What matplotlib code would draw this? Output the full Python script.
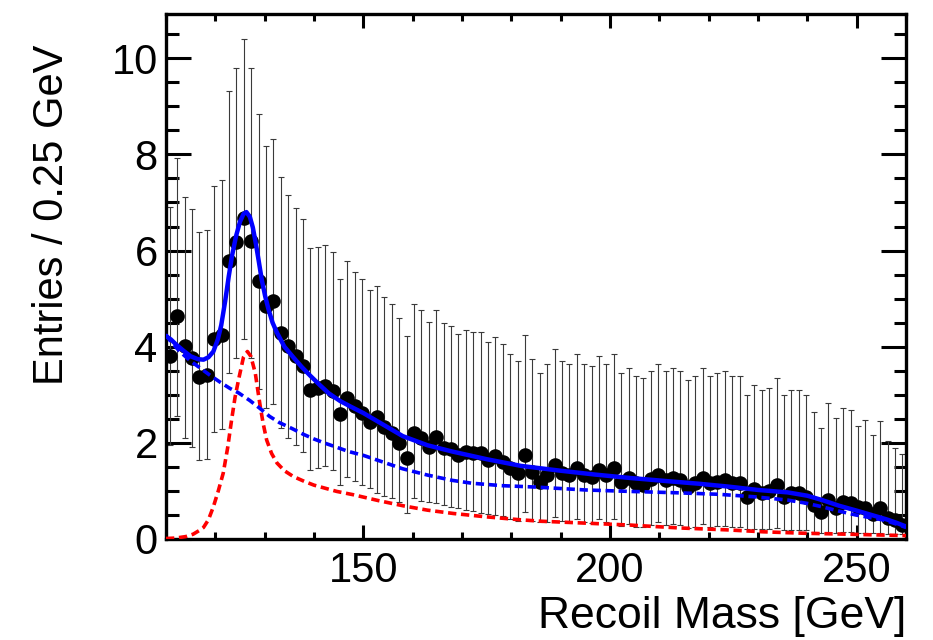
import matplotlib
matplotlib.use("Agg")
import matplotlib.pyplot as plt
import numpy as np
from matplotlib.ticker import MultipleLocator, FixedLocator

plt.rcParams['font.family'] = ['Liberation Sans', 'DejaVu Sans']

# ---- data ----
first_edge = 110.0
bin_width = 1.5

entries = [
    3.80, 4.63, 4.02, 3.76, 3.38, 3.42, 4.17, 4.25, 5.78, 6.18,
    6.68, 6.19, 5.36, 4.84, 4.96, 4.28, 4.01, 3.80, 3.60, 3.10,
    3.14, 3.19, 3.07, 2.60, 2.93, 2.76, 2.62, 2.44, 2.53, 2.34,
    2.20, 1.99, 1.69, 2.21, 2.10, 1.92, 2.13, 1.89, 1.87, 1.74,
    1.82, 1.78, 1.78, 1.65, 1.72, 1.61, 1.47, 1.37, 1.75, 1.40,
    1.19, 1.33, 1.54, 1.37, 1.33, 1.47, 1.33, 1.30, 1.44, 1.33,
    1.47, 1.19, 1.26, 1.16, 1.13, 1.24, 1.33, 1.23, 1.26, 1.23,
    1.09, 1.16, 1.26, 1.16, 1.19, 1.23, 1.16, 1.16, 0.88, 1.03,
    0.95, 0.99, 1.13, 0.88, 0.95, 0.95, 0.88, 0.71, 0.57, 0.81,
    0.64, 0.78, 0.74, 0.67, 0.64, 0.53, 0.64, 0.43, 0.40, 0.29,
]

upper_end = [
    6.91, 7.92, 7.12, 6.86, 6.39, 6.42, 7.35, 7.47, 9.31, 9.79,
    10.40, 9.80, 8.83, 8.18, 8.31, 7.53, 7.15, 6.88, 6.65, 6.05,
    6.08, 6.12, 5.97, 5.40, 5.78, 5.56, 5.41, 5.18, 5.26, 5.04,
    4.88, 4.60, 4.22, 4.89, 4.76, 4.51, 4.76, 4.49, 4.44, 4.27,
    4.35, 4.30, 4.30, 4.10, 4.20, 4.05, 3.85, 3.70, 4.25, 3.75,
    3.45, 3.65, 3.95, 3.70, 3.65, 3.85, 3.65, 3.60, 3.80, 3.65,
    3.85, 3.45, 3.55, 3.40, 3.35, 3.50, 3.65, 3.50, 3.55, 3.50,
    3.30, 3.40, 3.55, 3.40, 3.45, 3.50, 3.40, 3.40, 3.00, 3.20,
    3.10, 3.15, 3.35, 3.00, 3.10, 3.10, 3.00, 2.65, 2.31, 2.83,
    2.51, 2.72, 2.69, 2.35, 2.48, 2.17, 2.45, 2.03, 1.89, 1.77,
]

lower_end = [
    1.95, 2.56, 2.10, 1.92, 1.64, 1.67, 2.22, 2.28, 3.45, 3.76,
    4.16, 3.77, 3.12, 2.72, 2.81, 2.30, 2.10, 1.95, 1.80, 1.44,
    1.47, 1.51, 1.44, 1.13, 1.30, 1.20, 1.13, 1.06, 0.95, 0.90,
    0.85, 0.76, 0.55, 0.85, 0.80, 0.76, 0.74, 0.71, 0.66, 0.64,
    0.60, 0.58, 0.55, 0.53, 0.50, 0.47, 0.41, 0.37, 0.57, 0.37,
    0.36, 0.35, 0.46, 0.37, 0.35, 0.42, 0.35, 0.33, 0.41, 0.35,
    0.42, 0.27, 0.31, 0.26, 0.24, 0.30, 0.35, 0.29, 0.31, 0.29,
    0.22, 0.26, 0.31, 0.26, 0.27, 0.28, 0.25, 0.25, 0.20, 0.21,
    0.20, 0.20, 0.22, 0.19, 0.19, 0.19, 0.18, 0.15, 0.13, 0.15,
    0.13, 0.14, 0.14, 0.13, 0.13, 0.12, 0.13, 0.11, 0.11, 0.10,
]

# fit curves
total_x = [110.0, 111.0, 112.0, 113.5, 115.0, 116.5, 117.6, 118.6, 119.6, 120.5,
           121.2, 122.0, 122.7, 123.4, 124.2, 125.0, 125.7, 126.3, 127.0, 127.6,
           128.2, 128.8, 129.4, 130.1, 130.8, 131.6, 132.5, 134.0, 135.8, 137.5,
           139.2, 141.2, 143.0, 145.3, 147.5, 150.0, 154.0, 158.0, 163.0, 168.0,
           175.0, 182.0, 190.0, 197.0, 204.0, 212.0, 218.0, 224.0, 230.0, 236.0,
           240.0, 243.0, 246.5, 250.0, 253.0, 256.0, 258.0, 260.0]
total_y = [4.22, 4.15, 4.05, 3.92, 3.80, 3.74, 3.73, 3.78, 3.90, 4.15,
           4.45, 4.95, 5.45, 5.90, 6.30, 6.60, 6.76, 6.80, 6.70, 6.48,
           6.15, 5.78, 5.40, 5.05, 4.77, 4.50, 4.29, 4.00, 3.78, 3.58,
           3.40, 3.20, 3.03, 2.87, 2.75, 2.62, 2.38, 2.14, 1.95, 1.82,
           1.66, 1.52, 1.42, 1.34, 1.27, 1.20, 1.15, 1.09, 1.02, 0.97,
           0.90, 0.81, 0.69, 0.59, 0.50, 0.41, 0.34, 0.26]

bkg_x = [110.0, 111.0, 113.0, 115.0, 117.0, 119.0, 121.0, 123.0, 124.7, 127.0,
         129.0, 131.0, 133.0, 135.5, 137.8, 140.0, 142.3, 144.0, 147.0, 150.0,
         154.0, 158.0, 163.0, 168.0, 172.0, 178.0, 185.0, 195.0, 204.0, 214.0,
         222.0, 229.0, 236.0, 240.0, 243.0, 246.0, 249.8, 253.0, 255.2, 257.5, 260.0]
bkg_y = [4.25, 4.10, 3.88, 3.70, 3.55, 3.40, 3.26, 3.13, 3.04, 2.88,
         2.72, 2.55, 2.42, 2.30, 2.18, 2.08, 1.99, 1.93, 1.82, 1.74,
         1.60, 1.46, 1.33, 1.22, 1.16, 1.11, 1.08, 1.02, 0.99, 0.96,
         0.93, 0.88, 0.81, 0.74, 0.67, 0.59, 0.50, 0.44, 0.40, 0.33, 0.24]

sig_x = [110.0, 112.0, 114.0, 115.5, 116.8, 117.6, 118.6, 119.6, 120.6, 121.6,
         122.5, 123.3, 124.0, 124.7, 125.7, 126.5, 127.2, 128.1, 128.6, 129.1,
         129.7, 130.4, 131.4, 132.5, 134.0, 135.8, 138.0, 140.0, 144.6, 148.0,
         153.0, 158.1, 163.0, 168.3, 175.0, 181.8, 186.0, 195.0, 204.0, 214.0,
         223.7, 231.0, 239.2, 248.0, 256.2, 260.0]
sig_y = [0.01, 0.02, 0.05, 0.10, 0.18, 0.24, 0.40, 0.67, 1.00, 1.37,
         1.90, 2.48, 2.95, 3.31, 3.78, 3.90, 3.80, 3.45, 3.10, 2.76,
         2.40, 2.06, 1.78, 1.58, 1.42, 1.30, 1.20, 1.12, 0.99, 0.92,
         0.80, 0.69, 0.60, 0.53, 0.46, 0.40, 0.37, 0.33, 0.29, 0.23,
         0.19, 0.15, 0.12, 0.10, 0.08, 0.07]

x_range = (110, 260)
y_range = (0, 10.92)
x_label = "Recoil Mass [GeV]"
y_label = "Entries / 0.25 GeV"

# ---- plot ----
W, H = 933, 640
fig = plt.figure(figsize=(W / 100, H / 100), dpi=100)
ax = fig.add_axes([166 / W, 1 - 539 / H, (906 - 166) / W, (539 - 14) / H])

vals = np.array(entries)
centers = first_edge + bin_width * (np.arange(len(vals)) + 0.5)
yerr = np.vstack([vals - np.array(lower_end), np.array(upper_end) - vals])

ax.errorbar(centers, vals, yerr=yerr, fmt='none', ecolor='#3a3a3a',
            elinewidth=0.8, capsize=2.0, capthick=0.8, zorder=2)
ax.plot(centers, vals, 'o', color='black', markersize=10.5, zorder=3,
        markeredgewidth=0)

ax.plot(sig_x, sig_y, color='#ff0000', lw=2.6, dashes=(2.3, 1.3), zorder=4)
ax.plot(bkg_x, bkg_y, color='#0000ff', lw=2.6, dashes=(2.3, 1.3), zorder=4)
ax.plot(total_x, total_y, color='#0000ff', lw=3.2, zorder=5)

ax.set_xlim(*x_range)
ax.set_ylim(*y_range)

for s in ax.spines.values():
    s.set_linewidth(2.4)

ax.xaxis.set_major_locator(FixedLocator([150, 200, 250]))
ax.xaxis.set_minor_locator(MultipleLocator(10))
ax.yaxis.set_major_locator(MultipleLocator(2))
ax.yaxis.set_minor_locator(MultipleLocator(0.5))

ax.tick_params(axis='both', which='both', direction='in', top=True, right=True, width=2.2)
ax.tick_params(axis='x', which='major', length=10, pad=9, labelsize=30)
ax.tick_params(axis='x', which='minor', length=5)
ax.tick_params(axis='y', which='major', length=18, pad=6, labelsize=30)
ax.tick_params(axis='y', which='minor', length=9)

fig.text(906 / W, 1 - 628 / H, x_label, ha='right', va='baseline', fontsize=32)
fig.text(52 / W, 1 - 215 / H, y_label, ha='center', va='center', rotation=90, fontsize=30)

fig.savefig("out.png", dpi=100)
